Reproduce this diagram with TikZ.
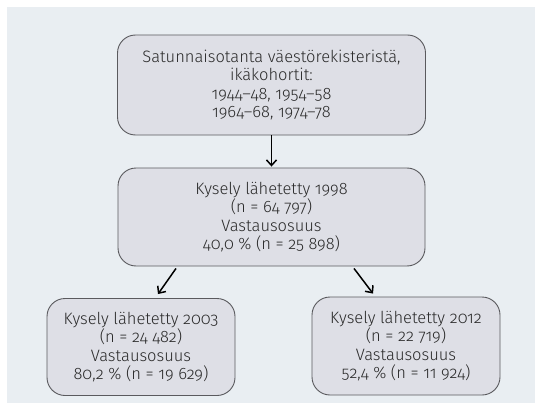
\documentclass[tikz,border=0pt]{standalone}
\usepackage{fontspec}
\setmainfont[Numbers=OldStyle]{Fira Sans Light}
\usetikzlibrary{arrows.meta}
\definecolor{panel}{HTML}{E9EEF2}
\definecolor{boxfill}{HTML}{DEDFE6}
\definecolor{boxline}{HTML}{5A5A5E}
\definecolor{txt}{HTML}{2A2A2A}
\tikzset{
  stagebox/.style={draw=boxline, line width=0.9pt, fill=boxfill, rounded corners=18pt,
    align=center, text=txt, font=\fontsize{16.5}{18.5}\selectfont, inner sep=0pt},
  arr/.style={line width=1.5pt, -{Straight Barb[length=5.5pt,width=10pt]}, draw=black}
}
\begin{document}
\begin{tikzpicture}[x=1pt,y=-1pt]
\useasboundingbox (0,0) rectangle (535,409);
\fill[white] (0,0) rectangle (535,409);
\fill[panel] (7,7) rectangle (535,403);
\node[stagebox, minimum width=308pt, minimum height=100pt] (top) at (271.5,85)
  {Satunnaisotanta väestörekisteristä,\\ikäkohortit:\\1944–48, 1954–58\\1964–68, 1974–78};
\node[stagebox, minimum width=307pt, minimum height=98pt] (mid) at (271.5,217)
  {Kysely lähetetty 1998\\(n = 64 797)\\Vastausosuus\\40,0 \% (n = 25 898)};
\node[stagebox, minimum width=188pt, minimum height=97pt] (bl) at (141,347)
  {Kysely lähetetty 2003\\(n = 24 482)\\Vastausosuus\\80,2 \% (n = 19 629)};
\node[stagebox, minimum width=188pt, minimum height=98pt] (br) at (406,346)
  {Kysely lähetetty 2012\\(n = 22 719)\\Vastausosuus\\52,4 \% (n = 11 924)};
\draw[arr] (top.south) -- ([yshift=1pt]mid.north);
\draw[arr] ([xshift=-95.5pt,yshift=-2pt]mid.south) -- ([xshift=17pt,yshift=4pt]bl.north);
\draw[arr] ([xshift=82.5pt,yshift=-2pt]mid.south) -- ([xshift=-33pt,yshift=3pt]br.north);
\end{tikzpicture}
\end{document}
